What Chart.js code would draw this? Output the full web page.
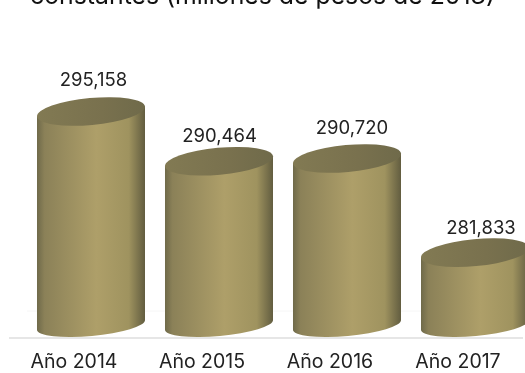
<!DOCTYPE html>
<html>
<head>
<meta charset="utf-8">
<script src="https://cdn.jsdelivr.net/npm/chart.js@4/dist/chart.umd.min.js"></script>
<style>
  html, body { margin: 0; padding: 0; background: #fff; overflow: hidden; }
  #wrap { position: absolute; left: 0; top: -24px; width: 560px; height: 397px; }
</style>
</head>
<body>
<div id="wrap"><canvas id="chart" width="560" height="397"></canvas></div>
<script>
const titleText = "constantes (millones de pesos de 2013)";
const categories = ["Año 2014", "Año 2015", "Año 2016", "Año 2017"];
const gasto = [295158, 290464, 290720, 281833];
const axisMin = 275000;
const axisMax = 304650;
// small shifts of the value labels, the source placed them by hand
const labelShiftX = [2.5, 0.5, 5, 6];
const labelShiftY = [-5, 1, -4, 2];

const FONT = "Inter, sans-serif";
const TILT = -5.3 * Math.PI / 180;
const LID_RY = 13.5;
const FOOT_RY = 11;

function bodyGradient(ctx, left, right) {
  const g = ctx.createLinearGradient(left, 0, right, 0);
  g.addColorStop(0, "#6f6a4a");
  g.addColorStop(0.07, "#8b8158");
  g.addColorStop(0.55, "#ae9f69");
  g.addColorStop(0.85, "#9f935f");
  g.addColorStop(1, "#625d40");
  return g;
}

function lidGradient(ctx, left, right) {
  const g = ctx.createLinearGradient(left, 0, right, 0);
  g.addColorStop(0, "#827a53");
  g.addColorStop(0.6, "#79714e");
  g.addColorStop(1, "#6f6a4a");
  return g;
}

const cylinders = {
  id: "cylinders",
  afterDatasetsDraw(chart) {
    const ctx = chart.ctx;
    const bars = chart.getDatasetMeta(0).data;
    bars.forEach(function (bar, i) {
      const rx = bar.width / 2 / Math.cos(TILT);
      const left = bar.x - bar.width / 2;
      const right = bar.x + bar.width / 2;
      const dy = bar.width / 2 * Math.tan(TILT);

      // side of the cylinder
      ctx.save();
      ctx.beginPath();
      ctx.moveTo(left, bar.y - dy);
      ctx.lineTo(left, bar.base - dy);
      ctx.ellipse(bar.x, bar.base, rx, FOOT_RY, TILT, Math.PI, 0, true);
      ctx.lineTo(right, bar.y + dy);
      ctx.closePath();
      ctx.fillStyle = bodyGradient(ctx, left, right);
      ctx.fill();

      // lid
      ctx.beginPath();
      ctx.ellipse(bar.x, bar.y, rx, LID_RY, TILT, 0, Math.PI * 2);
      ctx.fillStyle = lidGradient(ctx, left, right);
      ctx.fill();

      // value label
      ctx.fillStyle = "#222";
      ctx.font = "18.5px " + FONT;
      ctx.textAlign = "center";
      ctx.textBaseline = "middle";
      ctx.fillText(gasto[i].toLocaleString("en-US"), bar.x + labelShiftX[i], bar.y - 26 + labelShiftY[i]);
      ctx.restore();
    });
  }
};

// the canvas is wider than the picture, so the title is centred by hand
const clippedTitle = {
  id: "clippedTitle",
  afterDraw(chart) {
    const ctx = chart.ctx;
    ctx.save();
    ctx.fillStyle = "#111";
    ctx.font = "24.8px " + FONT;
    ctx.textAlign = "center";
    ctx.textBaseline = "alphabetic";
    ctx.fillText(titleText, 262.5, 28);
    ctx.restore();
  }
};

new Chart(document.getElementById("chart"), {
  type: "bar",
  data: {
    labels: categories,
    datasets: [{
      data: gasto,
      base: axisMin,
      backgroundColor: "transparent",
      barPercentage: 0.84375,
      categoryPercentage: 1
    }]
  },
  options: {
    responsive: false,
    animation: false,
    layout: { padding: { left: 27, right: 21, top: 35, bottom: 0 } },
    plugins: {
      legend: { display: false },
      tooltip: { enabled: false }
    },
    scales: {
      x: {
        grid: { display: false },
        border: { display: false },
        afterFit(scale) { scale.height = 48; },
        ticks: {
          color: "#222",
          font: { family: FONT, size: 19.5 },
          padding: 17,
          labelOffset: -17,
          maxRotation: 0,
          autoSkip: false
        }
      },
      y: {
        display: false,
        min: axisMin,
        max: axisMax
      }
    }
  },
  plugins: [cylinders, clippedTitle, {
    id: "baseline",
    beforeDatasetsDraw(chart) {
      const ctx = chart.ctx;
      const base = chart.scales.y.getPixelForValue(axisMin);
      ctx.save();
      ctx.strokeStyle = "#e6e6e6";
      ctx.lineWidth = 2;
      ctx.beginPath();
      ctx.moveTo(9, base + 13);
      ctx.lineTo(523, base + 13);
      ctx.stroke();
      ctx.strokeStyle = "#f6f6f6";
      ctx.lineWidth = 1;
      ctx.beginPath();
      ctx.moveTo(27, base - 14);
      ctx.lineTo(523, base - 14);
      ctx.stroke();
      ctx.restore();
    }
  }]
});
</script>
</body>
</html>
